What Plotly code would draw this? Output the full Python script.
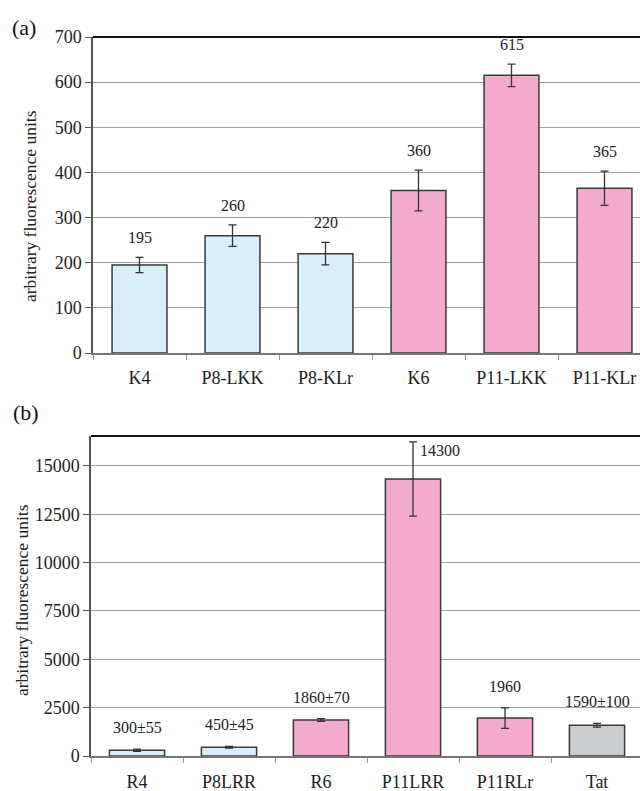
import plotly.graph_objects as go

# Panel (a)
cats_a = ["K4", "P8-LKK", "P8-KLr", "K6", "P11-LKK", "P11-KLr"]
vals_a = [195, 260, 220, 360, 615, 365]
errs_a = [17, 24, 25, 45, 25, 38]
labels_a = ["195", "260", "220", "360", "615", "365"]
groups_a = ["blue", "blue", "blue", "pink", "pink", "pink"]

# Panel (b)
cats_b = ["R4", "P8LRR", "R6", "P11LRR", "P11RLr", "Tat"]
vals_b = [300, 450, 1860, 14330, 1960, 1590]
errs_b = [55, 45, 70, 1920, 530, 100]
labels_b = ["300±55", "450±45", "1860±70", "14300", "1960", "1590±100"]
groups_b = ["blue", "blue", "pink", "pink", "pink", "gray"]

yticks_a = [0, 100, 200, 300, 400, 500, 600, 700]
yticks_b = [0, 2500, 5000, 7500, 10000, 12500, 15000]

COLORS = {"blue": "#d8eef9", "pink": "#f2abcc", "gray": "#c9cdd0"}
FONT = "Liberation Serif, Times New Roman, serif"
EDGE = "#3a3a3a"

fig = go.Figure()

fig.add_trace(go.Bar(
    x=cats_a, y=vals_a, width=0.59,
    marker=dict(color=[COLORS[g] for g in groups_a], line=dict(color=EDGE, width=1.5)),
    error_y=dict(type="data", array=errs_a, visible=True, color="#333333", thickness=1.3, width=4),
    xaxis="x", yaxis="y", showlegend=False, hoverinfo="skip",
))
fig.add_trace(go.Bar(
    x=cats_b, y=vals_b, width=0.6,
    marker=dict(color=[COLORS[g] for g in groups_b], line=dict(color=EDGE, width=1.5)),
    error_y=dict(type="data", array=errs_b, visible=True, color="#333333", thickness=1.3, width=4),
    xaxis="x2", yaxis="y2", showlegend=False, hoverinfo="skip",
))

annotations = []
for c, v, e, t in zip(cats_a, vals_a, errs_a, labels_a):
    annotations.append(dict(x=c, y=v + e, xref="x", yref="y", text=t, showarrow=False,
                            yanchor="bottom", yshift=9, font=dict(size=16, color="#222", family=FONT)))
for c, v, e, t in zip(cats_b, vals_b, errs_b, labels_b):
    if t == "14300":
        annotations.append(dict(x=c, y=v + e, xref="x2", yref="y2", text=t, showarrow=False,
                                xanchor="left", xshift=5, yanchor="middle", yshift=-9,
                                font=dict(size=16, color="#222", family=FONT)))
    else:
        annotations.append(dict(x=c, y=v + e, xref="x2", yref="y2", text=t, showarrow=False,
                                yanchor="bottom", yshift=11, font=dict(size=16, color="#222", family=FONT)))

# Panel labels and axis titles
annotations += [
    dict(x=10 / 640, y=1 - 27 / 791, xref="paper", yref="paper", text="(a)", showarrow=False,
         xanchor="left", yanchor="middle", font=dict(size=22, color="#111", family=FONT)),
    dict(x=11 / 640, y=1 - 412 / 791, xref="paper", yref="paper", text="(b)", showarrow=False,
         xanchor="left", yanchor="middle", font=dict(size=22, color="#111", family=FONT)),
    dict(x=30 / 640, y=1 - 206 / 791, xref="paper", yref="paper", text="arbitrary fluorescence units",
         showarrow=False, textangle=-90, xanchor="center", yanchor="middle",
         font=dict(size=17.5, color="#222", family=FONT)),
    dict(x=22 / 640, y=1 - 600 / 791, xref="paper", yref="paper", text="arbitrary fluorescence units",
         showarrow=False, textangle=-90, xanchor="center", yanchor="middle",
         font=dict(size=17.5, color="#222", family=FONT)),
]

axis_font = dict(size=18, color="#222", family=FONT)

fig.update_layout(
    width=640, height=791, autosize=False,
    margin=dict(l=0, r=0, t=0, b=0, autoexpand=False),
    paper_bgcolor="white", plot_bgcolor="white",
    annotations=annotations,
    xaxis=dict(domain=[93 / 640, 1], anchor="y", range=[-0.5, -0.5 + (640 - 93) / 93],
               showline=True, linecolor="#777", linewidth=1.5, ticks="outside", tickson="boundaries",
               ticklen=5, tickcolor="#999", tickfont=axis_font, ticklabelstandoff=8,
               showgrid=False, automargin=False),
    yaxis=dict(domain=[1 - 353 / 791, 1 - 37 / 791], anchor="x", range=[0, 700],
               tickvals=yticks_a, tickformat="d", showline=True, linecolor="#555", linewidth=1.5,
               ticks="outside", ticklen=6, tickcolor="#555", tickfont=axis_font,
               showgrid=True, gridcolor="#a0a0a0", gridwidth=1.2, zeroline=False, automargin=False),
    xaxis2=dict(domain=[91 / 640, 1], anchor="y2", range=[-0.5, -0.5 + (640 - 91) / 92],
                showline=True, linecolor="#777", linewidth=1.5, ticks="outside", tickson="boundaries",
                ticklen=5, tickcolor="#999", tickfont=axis_font, ticklabelstandoff=9,
                showgrid=False, automargin=False),
    yaxis2=dict(domain=[1 - 756 / 791, 1 - 436 / 791], anchor="x2", range=[0, 16550],
                tickvals=yticks_b, tickformat="d", showline=True, linecolor="#555", linewidth=1.5,
                ticks="outside", ticklen=6, tickcolor="#555", tickfont=axis_font,
                showgrid=True, gridcolor="#a0a0a0", gridwidth=1.2, zeroline=False, automargin=False),
    shapes=[
        dict(type="line", xref="x domain", yref="y domain", x0=0, x1=1, y0=1, y1=1,
             line=dict(color="#111", width=2)),
        dict(type="line", xref="x2 domain", yref="y2 domain", x0=0, x1=1, y0=1, y1=1,
             line=dict(color="#111", width=2)),
    ],
)

fig.write_html("out.html", config={"displayModeBar": False, "responsive": False},
               post_script="document.body.style.margin='0px';document.body.style.overflow='hidden';")
